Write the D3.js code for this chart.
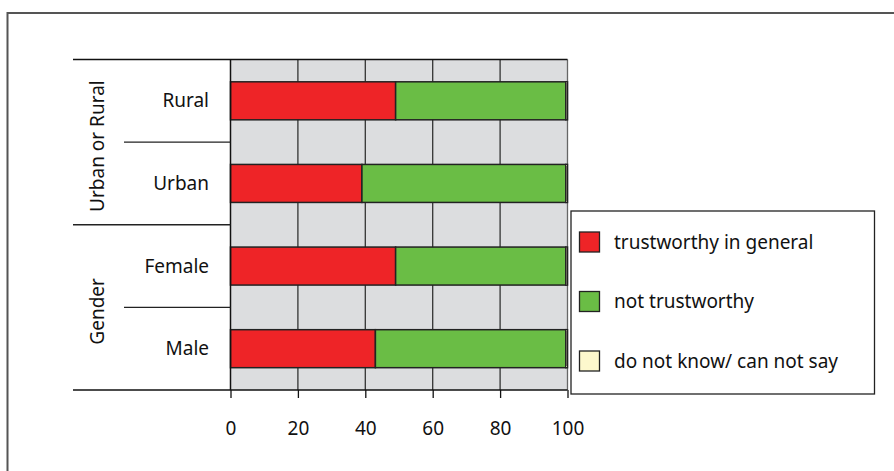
<!DOCTYPE html>
<html><head><meta charset="utf-8">
<script src="https://cdn.jsdelivr.net/npm/d3@7"></script>
<style>body{margin:0;background:#fff}svg{display:block}text{font-family:"Noto Sans","Open Sans",sans-serif;fill:#111}</style>
</head><body>
<script>
const categories = ["Rural", "Urban", "Female", "Male"];
const groups = ["Urban or Rural", "Urban or Rural", "Gender", "Gender"];
const trustworthy = [49, 39, 49, 43];
const notTrustworthy = [50.5, 60.5, 50.5, 56.5];
const doNotKnow = [0.5, 0.5, 0.5, 0.5];
const seriesNames = ["trustworthy in general", "not trustworthy", "do not know/ can not say"];
const seriesColors = ["#ee2427", "#6abd45", "#fdf8cd"];
const xTicks = [0, 20, 40, 60, 80, 100];

(function () {
const W = 894, H = 471;
const FS = 19;
const svg = d3.select("body").append("svg").attr("width", W).attr("height", H);

// outer frame
svg.append("path").attr("d", `M7.5,${H}V13H${W}`).attr("fill", "none").attr("stroke", "#555").attr("stroke-width", 2);

const pLeft = 230.5, pRight = 567.5, pTop = 59.5, pBottom = 390;
const x = d3.scaleLinear().domain([0, 100]).range([pLeft, pRight]);
const y = d3.scaleBand().domain(categories).range([pTop, pBottom]).paddingInner(0.54).paddingOuter(0.27);

svg.append("rect").attr("x", pLeft).attr("y", pTop).attr("width", pRight - pLeft).attr("height", pBottom - pTop).attr("fill", "#dcdddf");

// gridlines
svg.append("g").selectAll("line").data(xTicks.slice(1, -1)).join("line")
  .attr("x1", d => x(d)).attr("x2", d => x(d)).attr("y1", pTop).attr("y2", pBottom)
  .attr("stroke", "#333").attr("stroke-width", 1.3);
svg.append("line").attr("x1", pRight).attr("x2", pRight).attr("y1", pTop).attr("y2", pBottom).attr("stroke", "#666").attr("stroke-width", 1.3);

// stacked bars
const rows = categories.map((c, i) => ({cat: c, s0: trustworthy[i], s1: notTrustworthy[i], s2: doNotKnow[i]}));
const stack = d3.stack().keys(["s0", "s1", "s2"])(rows);
svg.append("g").selectAll("g").data(stack).join("g")
  .attr("fill", (d, i) => seriesColors[i])
  .selectAll("rect").data(d => d).join("rect")
  .attr("x", d => x(d[0])).attr("width", d => x(d[1]) - x(d[0]))
  .attr("y", d => y(d.data.cat)).attr("height", y.bandwidth())
  .attr("stroke", "#222").attr("stroke-width", 1.5);

// frame lines of plot
svg.append("line").attr("x1", 73).attr("x2", pRight).attr("y1", pTop).attr("y2", pTop).attr("stroke", "#111").attr("stroke-width", 1.5);
svg.append("line").attr("x1", 73).attr("x2", pRight).attr("y1", pBottom).attr("y2", pBottom).attr("stroke", "#111").attr("stroke-width", 1.5);
svg.append("line").attr("x1", pLeft).attr("x2", pLeft).attr("y1", pTop).attr("y2", pBottom).attr("stroke", "#111").attr("stroke-width", 1.5);

// x axis
const xAxis = svg.append("g").attr("transform", `translate(0,${pBottom})`)
  .call(d3.axisBottom(x).tickValues(xTicks).tickSize(8).tickPadding(24));
xAxis.select(".domain").remove();
xAxis.selectAll("line").attr("stroke", "#111").attr("stroke-width", 1.3);
xAxis.selectAll("text").attr("font-size", FS).attr("font-family", '"Noto Sans","Open Sans",sans-serif').attr("fill", "#111");

// y labels
svg.append("g").selectAll("text").data(categories).join("text")
  .attr("x", 209).attr("y", d => y(d) + y.bandwidth() / 2).attr("dy", "0.35em")
  .attr("text-anchor", "end").attr("font-size", FS).text(d => d);

// separators
const step = y.step();
const seps = [];
for (let i = 1; i < categories.length; i++) {
  const yy = pTop + step * i;
  seps.push({y: yy, major: groups[i] !== groups[i - 1]});
}
svg.append("g").selectAll("line").data(seps).join("line")
  .attr("x1", d => d.major ? 73 : 124).attr("x2", pLeft).attr("y1", d => d.y).attr("y2", d => d.y)
  .attr("stroke", "#222").attr("stroke-width", 1.3);

// group labels
const groupNames = Array.from(new Set(groups));
groupNames.forEach(g => {
  const idx = groups.map((d, i) => d === g ? i : -1).filter(i => i >= 0);
  const y0 = pTop + step * idx[0], y1 = pTop + step * (idx[idx.length - 1] + 1);
  const cy = (y0 + y1) / 2 + 4;
  svg.append("text").attr("transform", `translate(97,${cy}) rotate(-90)`)
    .attr("text-anchor", "middle").attr("dy", "0.35em").attr("font-size", FS).text(g);
});

// legend
const lg = svg.append("g");
lg.append("rect").attr("x", 571).attr("y", 211).attr("width", 303.5).attr("height", 183).attr("fill", "#fff").attr("stroke", "#222").attr("stroke-width", 1.3);
const ly = d3.scalePoint().domain(seriesNames).range([242, 361]);
lg.selectAll("rect.sw").data(seriesNames).join("rect").attr("class", "sw")
  .attr("x", 579.5).attr("y", d => ly(d) - 10).attr("width", 20).attr("height", 20)
  .attr("fill", (d, i) => seriesColors[i]).attr("stroke", "#222").attr("stroke-width", 1.3);
lg.selectAll("text").data(seriesNames).join("text")
  .attr("x", 614).attr("y", d => ly(d)).attr("dy", "0.35em").attr("font-size", FS).text(d => d);
})();
</script>
</body></html>
